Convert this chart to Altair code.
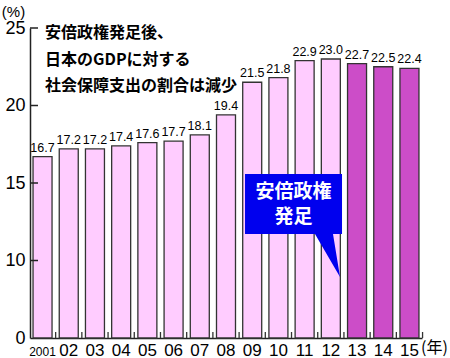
import altair as alt
import pandas as pd

years = ["2001", "02", "03", "04", "05", "06", "07", "08", "09", "10", "11", "12", "13", "14", "15"]
values = [16.7, 17.2, 17.2, 17.4, 17.6, 17.7, 18.1, 19.4, 21.5, 21.8, 22.9, 23.0, 22.7, 22.5, 22.4]
period = ["before"] * 12 + ["after"] * 3
ytick_vals = [5, 10, 15, 20, 25]
ytick_labels = ["0", "10", "15", "20", "25"]
title_lines = ["安倍政権発足後、", "日本のGDPに対する", "社会保障支出の割合は減少"]
callout_lines = ["安倍政権", "発足"]

df = pd.DataFrame({"year": years, "value": values, "period": period})
df["label"] = [f"{v:.1f}" for v in values]
ticks_df = pd.DataFrame({"v": ytick_vals[1:]})

W, H = 392, 310
NARROW = "Liberation Sans Narrow, Arial Narrow, Liberation Sans, Arial"
SANS = "Liberation Sans, Arial, Helvetica"
CJK = "Noto Sans CJK JP"

label_expr = "datum.value == 5 ? '0' : datum.label"

xscale = alt.Scale(domain=years, paddingInner=0.275, paddingOuter=0.116)
yscale = alt.Scale(domain=[5, 25], nice=False, zero=False)

base = alt.Chart(df)

bars = base.mark_bar(stroke="#333333", strokeWidth=1.3).encode(
    x=alt.X("year:N", scale=xscale, sort=years,
            axis=alt.Axis(title="(年)", titleFont=CJK, titleFontSize=16, titleFontWeight="normal",
                          titleX=404, titleY=1, titleAlign="center", titleBaseline="top",
                          titleColor="black",
                          labelAngle=0, labelFont=SANS,
                          labelFontSize=alt.condition("datum.value == '2001'", alt.value(12), alt.value(17)),
                          labelColor="black", labelBaseline="alphabetic", labelPadding=17,
                          ticks=False, tickSize=0, domainColor="#222222", domainWidth=1.5)),
    y=alt.Y("value:Q", scale=yscale,
            axis=alt.Axis(values=ytick_vals, labelExpr=label_expr, title="(%)",
                          titleAngle=0, titleX=-17, titleY=-12, titleAlign="center",
                          titleBaseline="alphabetic", titleFont=SANS, titleFontSize=15,
                          titleFontWeight="normal", titleColor="black",
                          labelFont=SANS, labelFontSize=18, labelColor="black", labelPadding=5,
                          ticks=False, tickSize=0, grid=False, domainColor="#222222", domainWidth=1.5)),
    y2=alt.datum(5),
    color=alt.Color("period:N", scale=alt.Scale(domain=["before", "after"], range=["#ffccff", "#cc4dc8"]),
                    legend=None),
)

labels = base.mark_text(baseline="bottom", dy=-2, font=NARROW, fontSize=12.5, color="black").encode(
    x=alt.X("year:N", sort=years),
    y=alt.Y("value:Q"),
    text="label:N",
)

xticks = base.mark_rule(color="#333333", strokeWidth=1.3, xOffset=3.6).encode(
    x=alt.X("year:N", sort=years, bandPosition=1),
    y=alt.value(H - 6),
    y2=alt.value(H),
)

yticks = alt.Chart(ticks_df).mark_rule(color="#222222", strokeWidth=1.5).encode(
    y=alt.Y("v:Q"),
    x=alt.value(0),
    x2=alt.value(8),
)

title_text = alt.Chart(pd.DataFrame({"t": [title_lines]})).mark_text(
    align="left", baseline="alphabetic", font=CJK, fontSize=16, fontWeight="bold",
    lineHeight=26.5, color="black").encode(
    x=alt.value(15), y=alt.value(10), text="t")

callout_box = alt.Chart(pd.DataFrame({"year": ["10"], "v": [13.645]})).mark_point(
    shape="M-1,-0.619H1V0.619H0.814L0.959,1.505L0.443,0.619H-1Z",
    filled=True, fill="#0000ee", size=9409, opacity=1, strokeWidth=0, xOffset=5.6).encode(
    x=alt.X("year:N", sort=years, bandPosition=1),
    y=alt.Y("v:Q"),
)

callout_text = alt.Chart(pd.DataFrame({"year": ["10"], "v": [14.4], "t": [callout_lines]})).mark_text(
    align="center", baseline="middle", font=CJK, fontSize=19, fontWeight="bold",
    lineHeight=25, color="white", xOffset=5.6).encode(
    x=alt.X("year:N", sort=years, bandPosition=1),
    y=alt.Y("v:Q"),
    text="t",
)

chart = alt.layer(bars, xticks, yticks, labels, title_text, callout_box, callout_text).properties(
    width=W, height=H,
    autosize=alt.AutoSizeParams(type="none"),
    padding={"left": 30, "top": 28, "right": 28, "bottom": 20},
    background="white",
).configure_view(stroke=None)

chart.save("out.html", embed_options={"renderer": "svg", "actions": False})
